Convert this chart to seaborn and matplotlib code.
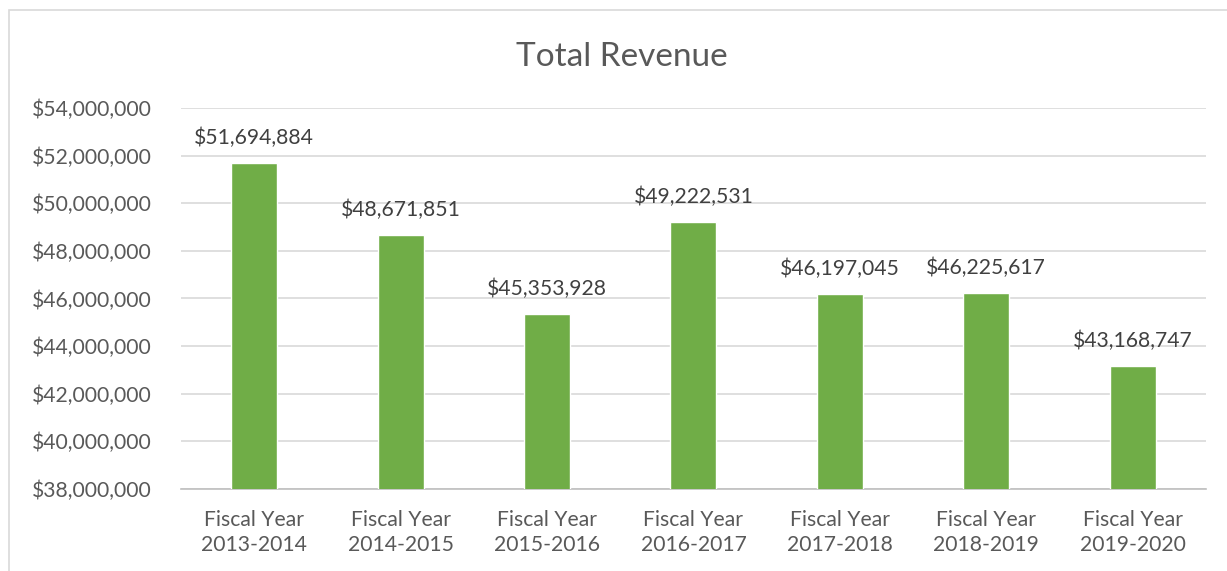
import matplotlib
matplotlib.use("Agg")
import matplotlib.pyplot as plt
import matplotlib.patches as mpatches
from matplotlib.ticker import FuncFormatter
import seaborn as sns
import pandas as pd

# chart data
fiscal_years = ["Fiscal Year\n2013-2014", "Fiscal Year\n2014-2015", "Fiscal Year\n2015-2016",
                "Fiscal Year\n2016-2017", "Fiscal Year\n2017-2018", "Fiscal Year\n2018-2019",
                "Fiscal Year\n2019-2020"]
revenue = [51694884, 48671851, 45353928, 49222531, 46197045, 46225617, 43168747]
y_ticks = [38000000, 40000000, 42000000, 44000000, 46000000, 48000000, 50000000, 52000000, 54000000]

df = pd.DataFrame({"year": fiscal_years, "revenue": revenue})

sns.set_style("white")
plt.rcParams["font.family"] = ["Lato", "DejaVu Sans"]

fig = plt.figure(figsize=(12.27, 5.71), dpi=100)
ax = fig.add_axes([0.1475, 0.1436, 0.8353, 0.6673])

# outer chart border (cropped)
fig.patches.append(mpatches.Rectangle((9 / 1227, -0.1), 1.2, 1 - 10 / 571 + 0.1,
                                      transform=fig.transFigure, fill=False,
                                      edgecolor="#D9D9D9", linewidth=1.2))

sns.barplot(data=df, x="year", y="revenue", color="#70AD47", width=0.314,
            saturation=1, ax=ax, zorder=3)

ax.set_ylim(38000000, 54000000)
ax.set_yticks(y_ticks)
ax.yaxis.set_major_formatter(FuncFormatter(lambda v, p: f"${v:,.0f}"))
ax.grid(axis="y", color="#D9D9D9", linewidth=1.2, zorder=0)
ax.set_axisbelow(True)
for s in ["top", "right", "left"]:
    ax.spines[s].set_visible(False)
ax.spines["bottom"].set_color("#BFBFBF")
ax.spines["bottom"].set_linewidth(1.2)
ax.tick_params(axis="y", length=0, pad=21, labelsize=15.2, labelcolor="#595959")
ax.tick_params(axis="x", length=0, pad=15, labelsize=15.2, labelcolor="#595959")
for lbl in ax.get_xticklabels():
    lbl.set_linespacing(1.3)
ax.set_xlabel("")
ax.set_ylabel("")

for i, v in enumerate(revenue):
    ax.annotate(f"${v:,.0f}", (i, v), xytext=(0, 10.5), textcoords="offset points",
                ha="center", va="bottom", fontsize=15.2, color="#404040")

fig.text(0.507, 0.9, "Total Revenue", ha="center", va="center",
         fontsize=24, color="#595959")

fig.savefig("out.png", dpi=100)
